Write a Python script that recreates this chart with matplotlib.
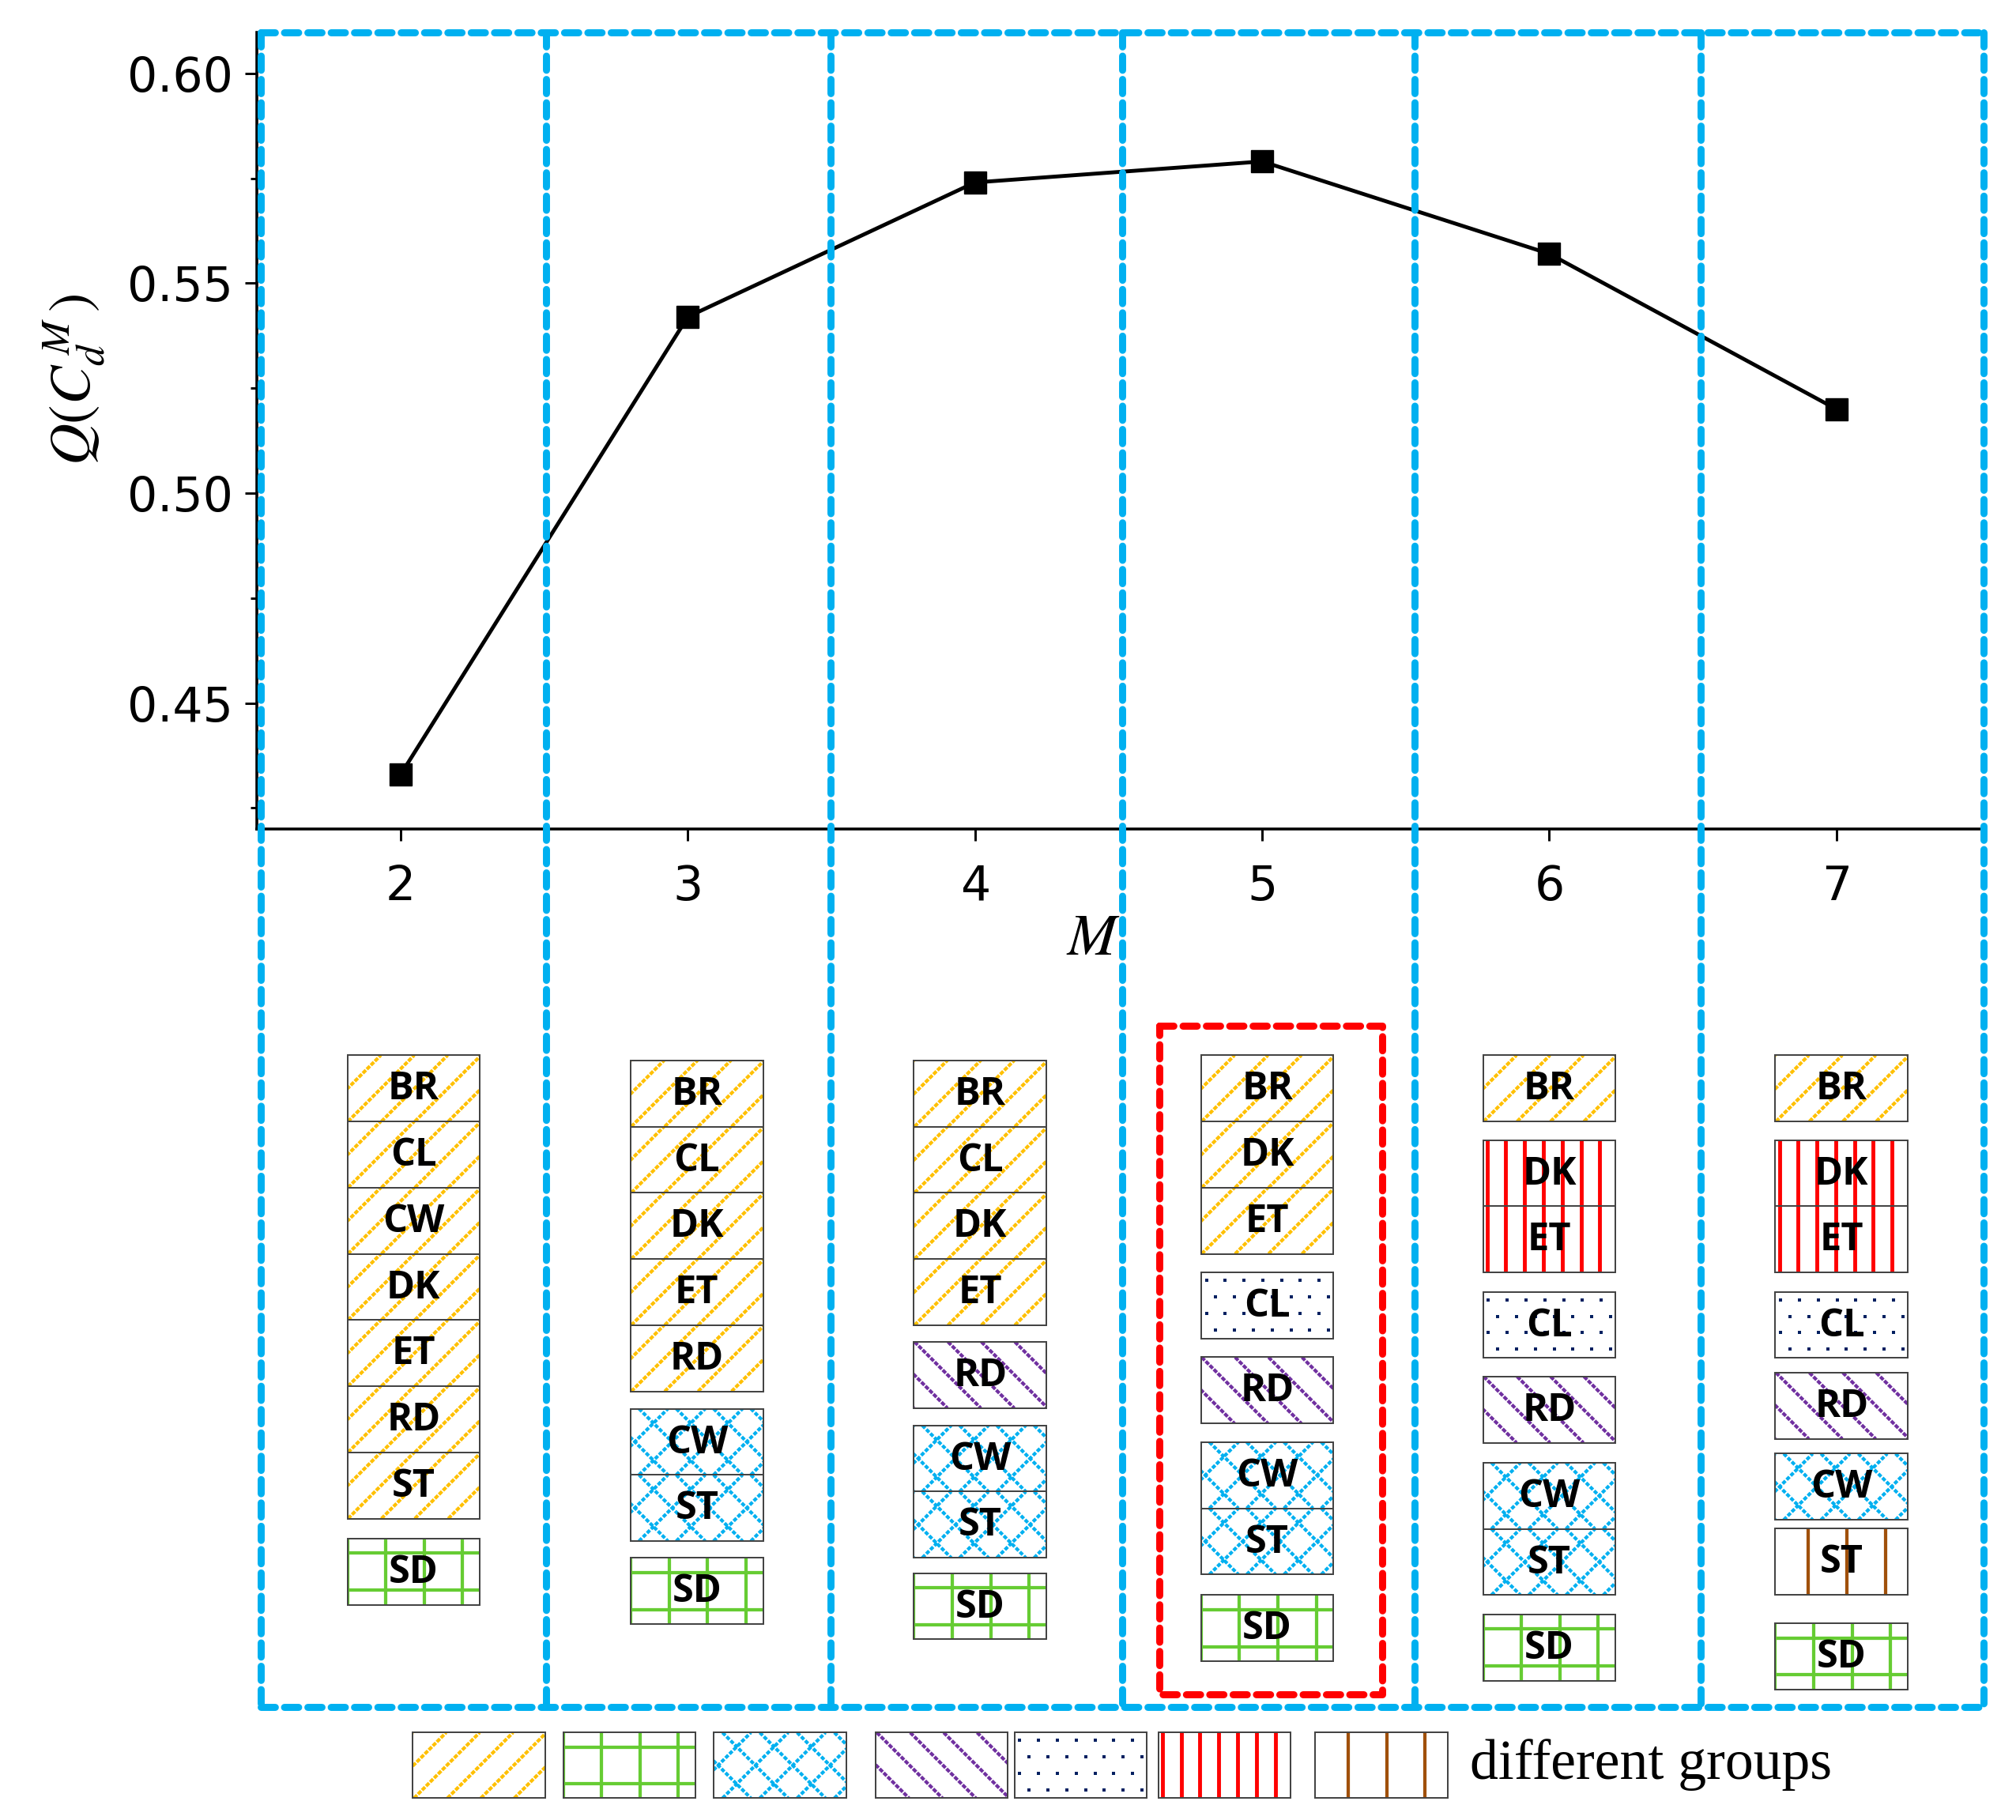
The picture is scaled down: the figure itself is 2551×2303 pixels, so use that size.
import matplotlib
matplotlib.use("Agg")
import matplotlib.pyplot as plt
from matplotlib.patches import Rectangle
import numpy as np

M_vals = [2, 3, 4, 5, 6, 7]
Q_vals = [0.433, 0.542, 0.574, 0.579, 0.557, 0.520]

# groupings for each M: list of (pattern, labels)
groups = {
    2: [("orange", ["BR", "CL", "CW", "DK", "ET", "RD", "ST"]), ("green", ["SD"])],
    3: [("orange", ["BR", "CL", "DK", "ET", "RD"]), ("blue", ["CW", "ST"]), ("green", ["SD"])],
    4: [("orange", ["BR", "CL", "DK", "ET"]), ("purple", ["RD"]), ("blue", ["CW", "ST"]), ("green", ["SD"])],
    5: [("orange", ["BR", "DK", "ET"]), ("dots", ["CL"]), ("purple", ["RD"]), ("blue", ["CW", "ST"]), ("green", ["SD"])],
    6: [("orange", ["BR"]), ("red", ["DK", "ET"]), ("dots", ["CL"]), ("purple", ["RD"]), ("blue", ["CW", "ST"]), ("green", ["SD"])],
    7: [("orange", ["BR"]), ("red", ["DK", "ET"]), ("dots", ["CL"]), ("purple", ["RD"]), ("blue", ["CW"]), ("brown", ["ST"]), ("green", ["SD"])],
}
legend_patterns = ["orange", "green", "blue", "purple", "dots", "red", "brown"]
legend_text = "different groups"

# ---- layout (display units of a 1568 x 1416 canvas) ----
W, H = 1568.0, 1416.0
S = 2551.0 / W          # display px -> output px
PT = S * 72 / 100.0     # display px -> points
group_tops = {2: [821, 1197], 3: [825, 1096, 1212], 4: [825, 1044, 1109, 1224],
              5: [821, 990, 1056, 1122, 1241], 6: [821, 887, 1005, 1071, 1138, 1256],
              7: [821, 887, 1005, 1068, 1131, 1189, 1263]}
col_shift = {2: 10, 3: 7, 4: 4, 5: 4, 6: 0, 7: 4}
BW, BH = 103, 51.5

fig = plt.figure(figsize=(25.51, 23.03), dpi=100)
ax = fig.add_axes([200 / W, 1 - 645 / H, 1340 / W, 620 / H])
ax.plot(M_vals, Q_vals, color="black", lw=3.0 * PT, marker="s", ms=17 * PT, zorder=3)
ax.set_xlim(1.5, 7.5)
ax.set_ylim(0.42, 0.6098)
ax.set_xticks(M_vals)
ax.set_yticks([0.45, 0.50, 0.55, 0.60])
ax.set_yticks([0.425, 0.475, 0.525, 0.575], minor=True)
ax.yaxis.set_major_formatter(matplotlib.ticker.FormatStrFormatter("%.2f"))
for s in ["top", "right"]:
    ax.spines[s].set_visible(False)
for s in ["left", "bottom"]:
    ax.spines[s].set_linewidth(2.2 * PT)
ax.tick_params(axis="both", which="major", labelsize=37 * PT, length=9 * PT, width=1.8 * PT, pad=10 * PT)
ax.tick_params(axis="x", which="major", pad=18 * PT)
ax.tick_params(axis="y", which="minor", length=5 * PT, width=1.8 * PT)
ax.set_facecolor("none")

ov = fig.add_axes([0, 0, 1, 1])
ov.set_xlim(0, W)
ov.set_ylim(H, 0)
ov.axis("off")
ov.patch.set_visible(False)

ov.text(58, 295, r"$Q(C_d^{\,M}\,)$", rotation=90, fontsize=45 * PT, ha="center", va="center",
        math_fontfamily="stix")
ov.text(850, 730, "$M$", fontsize=46 * PT, ha="center", va="center", math_fontfamily="stix")

COL = {"orange": "#FFC000", "green": "#66CC33", "blue": "#00B0F0", "purple": "#7030A0",
       "dots": "#002060", "red": "#FF0000", "brown": "#A0500A"}


def draw_pattern(x0, y0, w, h, kind):
    rect = Rectangle((x0, y0), w, h, facecolor="white", edgecolor="#444444", lw=1.0 * PT, zorder=2)
    ov.add_patch(rect)
    clip = Rectangle((x0, y0), w, h, transform=ov.transData, fill=False, lw=0)
    c = COL[kind]
    segs = []
    lw = 2.6 * PT
    ls = "-"
    if kind == "orange":
        for k in np.arange(-h, w + h, 26):
            segs.append(((x0 + k, y0 + h), (x0 + k + h, y0)))
        ls = (0, (1.3, 0.4))
    elif kind == "purple":
        for k in np.arange(-h, w + h, 26):
            segs.append(((x0 + k, y0), (x0 + k + h, y0 + h)))
        ls = (0, (1.3, 0.4))
    elif kind == "blue":
        for k in np.arange(-h, w + h, 29):
            segs.append(((x0 + k, y0 + h), (x0 + k + h, y0)))
            segs.append(((x0 + k, y0), (x0 + k + h, y0 + h)))
        ls = (0, (1.2, 0.5))
    elif kind == "green":
        for f in [0.0, 0.29, 0.58, 0.87]:
            segs.append(((x0 + w * f, y0), (x0 + w * f, y0 + h)))
        for f in [0.22, 0.78]:
            segs.append(((x0, y0 + h * f), (x0 + w, y0 + h * f)))
    elif kind == "red":
        for f in np.arange(0.03, 1.0, 0.142):
            segs.append(((x0 + w * f, y0), (x0 + w * f, y0 + h)))
        lw = 3.0 * PT
    elif kind == "brown":
        for f in [0.25, 0.54, 0.83]:
            segs.append(((x0 + w * f, y0), (x0 + w * f, y0 + h)))
    for (a, b) in segs:
        ln, = ov.plot([a[0], b[0]], [a[1], b[1]], color=c, lw=lw, ls=ls, zorder=2.5)
        ln.set_clip_path(clip)
    if kind == "dots":
        xs, ys = [], []
        for j, fy in enumerate([0.12, 0.37, 0.62, 0.87]):
            off = 0.0 if j % 2 == 0 else 0.071
            for fx in np.arange(0.04 + off, 1.0, 0.142):
                xs.append(x0 + w * fx)
                ys.append(y0 + h * fy)
        ov.scatter(xs, ys, marker="s", s=(3.0 * PT) ** 2, color=c, zorder=2.5, lw=0)
    ov.add_patch(Rectangle((x0, y0), w, h, fill=False, edgecolor="#444444", lw=1.2 * PT, zorder=3))


def xdisp(m):
    return 200 + (m - 1.5) / 6.0 * 1340


for m in M_vals:
    xc = xdisp(m) + col_shift[m]
    for (kind, labels), top in zip(groups[m], group_tops[m]):
        for i, lab in enumerate(labels):
            y0 = top + i * BH
            draw_pattern(xc - BW / 2, y0, BW, BH, kind)
            ov.text(xc, y0 + BH / 2 + 1, lab, fontsize=30 * PT, fontweight="bold", family="Open Sans",
                    ha="center", va="center", zorder=4)

# dashed blue grid
blue_kw = dict(color="#00B0F0", lw=5.5 * PT, ls=(0, (2.0, 1.3)), dash_capstyle="round", zorder=5)
for xv in [203, 425, 646, 873, 1100, 1323, 1543]:
    ov.plot([xv, xv], [25, 1328], **blue_kw)
ov.plot([203, 1543], [25, 25], **blue_kw)
ov.plot([203, 1543], [1328, 1328], **blue_kw)
red_kw = dict(color="#FF0000", lw=5.5 * PT, ls=(0, (2.0, 1.3)), dash_capstyle="round", zorder=5)
ov.plot([902, 1075, 1075, 902, 902], [798, 798, 1318, 1318, 798], **red_kw)

# legend
lx = [321, 438, 555, 681, 789, 901, 1023]
for x0, kind in zip(lx, legend_patterns):
    draw_pattern(x0, 1348, BW, 51, kind)
ov.text(1143, 1373, legend_text, fontsize=44 * PT, family="Liberation Serif", ha="left", va="center")

fig.savefig("out.png", dpi=100)
